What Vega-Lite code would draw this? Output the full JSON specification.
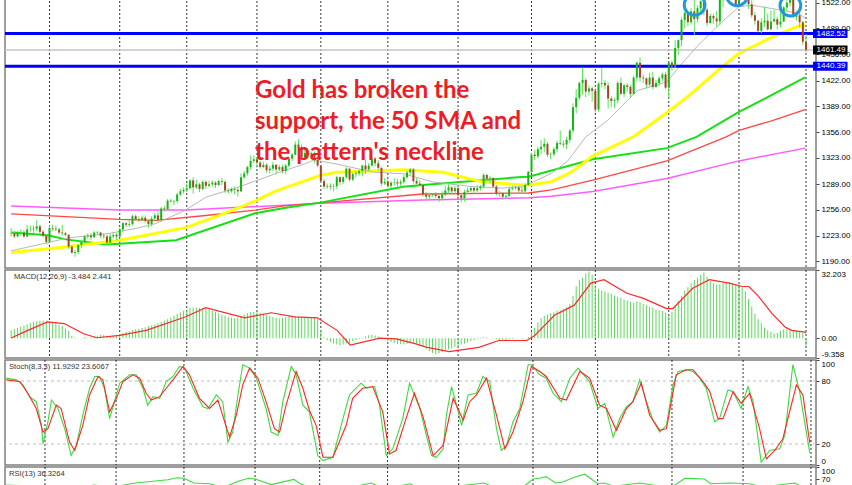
{
"$schema":"https://vega.github.io/schema/vega-lite/v6.json",
"padding":{"left":2,"top":-5,"right":0,"bottom":0},
"background":"white",
"spacing":2,
"bounds":"flush",
"config":{"view":{"stroke":"#7f7f7f","strokeWidth":1.5},"axis":{"labelFont":"Liberation Sans","labelFontSize":8,"labelColor":"#000","tickColor":"#444","tickSize":3,"labelPadding":2,"domain":false,"grid":false}},
"datasets":{
"bars":[
{"i":0,"o":1226,"h":1233,"l":1222,"c":1226.5,"m":3.7},{"i":1,"o":1226,"h":1229,"l":1220,"c":1222,"m":4.2},{"i":2,"o":1222,"h":1229,"l":1221,"c":1227,"m":4.8},{"i":3,"o":1227,"h":1231,"l":1223,"c":1227.5,"m":5.4},{"i":4,"o":1227,"h":1230,"l":1220,"c":1222,"m":6.0},{"i":5,"o":1222,"h":1237,"l":1221,"c":1231,"m":6.6},{"i":6,"o":1231,"h":1236,"l":1228,"c":1231.5,"m":7.2},{"i":7,"o":1231,"h":1236,"l":1226,"c":1232,"m":7.7},{"i":8,"o":1232,"h":1243,"l":1229,"c":1235,"m":8.0},{"i":9,"o":1235,"h":1237,"l":1225,"c":1228,"m":8.2},
{"i":10,"o":1228,"h":1230,"l":1221,"c":1223,"m":8.3},{"i":11,"o":1223,"h":1225,"l":1212,"c":1215,"m":8.2},{"i":12,"o":1215,"h":1236,"l":1214,"c":1233,"m":7.8},{"i":13,"o":1233,"h":1237,"l":1229,"c":1232,"m":7.4},{"i":14,"o":1232,"h":1236,"l":1229,"c":1231,"m":7.0},{"i":15,"o":1231,"h":1233,"l":1225,"c":1227,"m":6.4},{"i":16,"o":1227,"h":1237,"l":1223,"c":1226,"m":5.9},{"i":17,"o":1226,"h":1228,"l":1222,"c":1224,"m":4.6},{"i":18,"o":1224,"h":1225,"l":1206,"c":1209,"m":3.5},{"i":19,"o":1209,"h":1211,"l":1200,"c":1201,"m":1.0},
{"i":20,"o":1201,"h":1205,"l":1196,"c":1202,"m":0.3},{"i":21,"o":1202,"h":1212,"l":1199,"c":1211,"m":-0.2},{"i":22,"o":1211,"h":1218,"l":1207,"c":1215,"m":0.1},{"i":23,"o":1215,"h":1224,"l":1213,"c":1222,"m":0.4},{"i":24,"o":1222,"h":1226,"l":1219,"c":1223,"m":0.2},{"i":25,"o":1223,"h":1226,"l":1217,"c":1221,"m":0.5},{"i":26,"o":1221,"h":1229,"l":1220,"c":1227,"m":1.0},{"i":27,"o":1227,"h":1229,"l":1225,"c":1227.5,"m":1.2},{"i":28,"o":1227,"h":1228,"l":1220,"c":1223,"m":1.5},{"i":29,"o":1223,"h":1226,"l":1219,"c":1222,"m":1.4},
{"i":30,"o":1222,"h":1224,"l":1211,"c":1214,"m":1.2},{"i":31,"o":1214,"h":1225,"l":1210,"c":1222,"m":0.8},{"i":32,"o":1222,"h":1228,"l":1220,"c":1224,"m":0.9},{"i":33,"o":1224,"h":1227,"l":1217,"c":1222,"m":1.3},{"i":34,"o":1222,"h":1233,"l":1221,"c":1231,"m":2.0},{"i":35,"o":1231,"h":1241,"l":1228,"c":1239,"m":2.5},{"i":36,"o":1239,"h":1240,"l":1234,"c":1237,"m":3.0},{"i":37,"o":1237,"h":1243,"l":1234,"c":1238,"m":3.4},{"i":38,"o":1238,"h":1250,"l":1236,"c":1248,"m":3.8},{"i":39,"o":1248,"h":1250,"l":1242,"c":1244,"m":4.2},
{"i":40,"o":1244,"h":1248,"l":1240,"c":1243,"m":4.5},{"i":41,"o":1243,"h":1249,"l":1242,"c":1246,"m":4.8},{"i":42,"o":1246,"h":1249,"l":1239,"c":1242,"m":5.2},{"i":43,"o":1242,"h":1244,"l":1233,"c":1238,"m":5.6},{"i":44,"o":1238,"h":1248,"l":1235,"c":1245,"m":6.0},{"i":45,"o":1245,"h":1252,"l":1244,"c":1249,"m":6.5},{"i":46,"o":1249,"h":1254,"l":1241,"c":1243,"m":7.0},{"i":47,"o":1243,"h":1260,"l":1242,"c":1258,"m":7.6},{"i":48,"o":1258,"h":1261,"l":1254,"c":1257,"m":8.3},{"i":49,"o":1257,"h":1270,"l":1256,"c":1268,"m":9.0},
{"i":50,"o":1268,"h":1270,"l":1266,"c":1267,"m":9.8},{"i":51,"o":1267,"h":1269,"l":1262,"c":1267.5,"m":10.6},{"i":52,"o":1267.5,"h":1278,"l":1265,"c":1276,"m":11.5},{"i":53,"o":1276,"h":1283,"l":1274,"c":1280,"m":12.3},{"i":54,"o":1280,"h":1285,"l":1277,"c":1282,"m":13.0},{"i":55,"o":1282,"h":1290,"l":1279,"c":1284,"m":13.6},{"i":56,"o":1284,"h":1295,"l":1282,"c":1294,"m":14.2},{"i":57,"o":1294,"h":1298,"l":1277,"c":1285,"m":14.5},{"i":58,"o":1285,"h":1295,"l":1283,"c":1289,"m":14.4},{"i":59,"o":1289,"h":1291,"l":1279,"c":1283,"m":14.3},
{"i":60,"o":1283,"h":1294,"l":1281,"c":1292,"m":14.1},{"i":61,"o":1292,"h":1294,"l":1283,"c":1287,"m":13.8},{"i":62,"o":1287,"h":1293,"l":1285,"c":1289,"m":13.5},{"i":63,"o":1289,"h":1294,"l":1286,"c":1291,"m":13.0},{"i":64,"o":1291,"h":1293,"l":1284,"c":1288,"m":12.4},{"i":65,"o":1288,"h":1295,"l":1287,"c":1293,"m":11.8},{"i":66,"o":1293,"h":1297,"l":1288,"c":1292,"m":11.2},{"i":67,"o":1292,"h":1294,"l":1278,"c":1281,"m":10.6},{"i":68,"o":1281,"h":1284,"l":1277,"c":1280,"m":10.0},{"i":69,"o":1280,"h":1285,"l":1278,"c":1283,"m":9.6},
{"i":70,"o":1283,"h":1286,"l":1276,"c":1282,"m":9.4},{"i":71,"o":1282,"h":1284,"l":1273,"c":1280,"m":9.8},{"i":72,"o":1280,"h":1303,"l":1279,"c":1298,"m":10.5},{"i":73,"o":1298,"h":1306,"l":1296,"c":1303,"m":11.2},{"i":74,"o":1303,"h":1313,"l":1300,"c":1311,"m":11.8},{"i":75,"o":1311,"h":1326,"l":1308,"c":1319,"m":12.2},{"i":76,"o":1319,"h":1326,"l":1316,"c":1321,"m":12.4},{"i":77,"o":1321,"h":1324,"l":1310,"c":1317,"m":12.3},{"i":78,"o":1317,"h":1319,"l":1309,"c":1311,"m":12.0},{"i":79,"o":1311,"h":1318,"l":1310,"c":1314,"m":11.6},
{"i":80,"o":1314,"h":1316,"l":1304,"c":1307,"m":11.0},{"i":81,"o":1307,"h":1313,"l":1303,"c":1309,"m":10.5},{"i":82,"o":1309,"h":1318,"l":1306,"c":1314,"m":10.0},{"i":83,"o":1314,"h":1315,"l":1302,"c":1308,"m":9.6},{"i":84,"o":1308,"h":1314,"l":1306,"c":1311,"m":9.3},{"i":85,"o":1311,"h":1314,"l":1303,"c":1306,"m":9.5},{"i":86,"o":1306,"h":1315,"l":1302,"c":1313,"m":10.0},{"i":87,"o":1313,"h":1324,"l":1311,"c":1322,"m":10.4},{"i":88,"o":1322,"h":1329,"l":1319,"c":1327,"m":10.6},{"i":89,"o":1327,"h":1344,"l":1326,"c":1340,"m":10.5},
{"i":90,"o":1340,"h":1347,"l":1336,"c":1337,"m":10.2},{"i":91,"o":1337,"h":1340,"l":1320,"c":1324,"m":9.8},{"i":92,"o":1324,"h":1333,"l":1322,"c":1329,"m":9.6},{"i":93,"o":1329,"h":1332,"l":1322,"c":1327,"m":9.7},{"i":94,"o":1327,"h":1331,"l":1322,"c":1329,"m":9.7},{"i":95,"o":1329,"h":1331,"l":1316,"c":1320,"m":9.5},{"i":96,"o":1320,"h":1322,"l":1311,"c":1313,"m":9.0},{"i":97,"o":1313,"h":1314,"l":1291,"c":1293,"m":4.0},{"i":98,"o":1293,"h":1296,"l":1283,"c":1286,"m":0.5},{"i":99,"o":1286,"h":1290,"l":1283,"c":1287,"m":-1.0},
{"i":100,"o":1287,"h":1290,"l":1282,"c":1286,"m":-1.8},{"i":101,"o":1286,"h":1290,"l":1280,"c":1286.5,"m":-2.5},{"i":102,"o":1286.5,"h":1300,"l":1283,"c":1298,"m":-3.0},{"i":103,"o":1298,"h":1299,"l":1288,"c":1292,"m":-3.4},{"i":104,"o":1292,"h":1299,"l":1289,"c":1298,"m":-3.0},{"i":105,"o":1298,"h":1311,"l":1296,"c":1309,"m":-2.5},{"i":106,"o":1309,"h":1310,"l":1293,"c":1295,"m":-2.2},{"i":107,"o":1295,"h":1304,"l":1293,"c":1302,"m":-1.5},{"i":108,"o":1302,"h":1306,"l":1298,"c":1303,"m":-1.0},{"i":109,"o":1303,"h":1308,"l":1300,"c":1306,"m":-0.5},
{"i":110,"o":1306,"h":1314,"l":1299,"c":1313,"m":0.2},{"i":111,"o":1313,"h":1320,"l":1302,"c":1308,"m":0.8},{"i":112,"o":1308,"h":1316,"l":1306,"c":1313,"m":1.4},{"i":113,"o":1313,"h":1325,"l":1312,"c":1322,"m":1.6},{"i":114,"o":1322,"h":1324,"l":1312,"c":1316,"m":1.3},{"i":115,"o":1316,"h":1320,"l":1307,"c":1310,"m":0.8},{"i":116,"o":1310,"h":1311,"l":1287,"c":1290,"m":0.2},{"i":117,"o":1290,"h":1297,"l":1288,"c":1292,"m":-0.5},{"i":118,"o":1292,"h":1295,"l":1285,"c":1287,"m":-1.2},{"i":119,"o":1287,"h":1293,"l":1284,"c":1291,"m":-1.8},
{"i":120,"o":1291,"h":1297,"l":1287,"c":1291.5,"m":-2.3},{"i":121,"o":1291.5,"h":1296,"l":1286,"c":1290,"m":-2.6},{"i":122,"o":1290,"h":1295,"l":1286,"c":1292,"m":-2.8},{"i":123,"o":1292,"h":1301,"l":1290,"c":1298,"m":-3.0},{"i":124,"o":1298,"h":1306,"l":1296,"c":1304,"m":-2.6},{"i":125,"o":1304,"h":1310,"l":1300,"c":1308,"m":-2.2},{"i":126,"o":1308,"h":1310,"l":1290,"c":1293,"m":-2.0},{"i":127,"o":1293,"h":1297,"l":1289,"c":1290,"m":-2.5},{"i":128,"o":1290,"h":1294,"l":1286,"c":1288,"m":-3.2},{"i":129,"o":1288,"h":1290,"l":1273,"c":1276,"m":-4.2},
{"i":130,"o":1276,"h":1279,"l":1270,"c":1273,"m":-5.2},{"i":131,"o":1273,"h":1277,"l":1269,"c":1275,"m":-6.0},{"i":132,"o":1275,"h":1277,"l":1273,"c":1276,"m":-7.0},{"i":133,"o":1276,"h":1279,"l":1271,"c":1274,"m":-7.6},{"i":134,"o":1274,"h":1277,"l":1266,"c":1271,"m":-7.2},{"i":135,"o":1271,"h":1280,"l":1268,"c":1276,"m":-6.5},{"i":136,"o":1276,"h":1287,"l":1274,"c":1281,"m":-5.8},{"i":137,"o":1281,"h":1289,"l":1276,"c":1285,"m":-5.2},{"i":138,"o":1285,"h":1286,"l":1276,"c":1280,"m":-4.8},{"i":139,"o":1280,"h":1287,"l":1277,"c":1284,"m":-4.2},
{"i":140,"o":1284,"h":1287,"l":1272,"c":1275,"m":-3.6},{"i":141,"o":1275,"h":1278,"l":1266,"c":1271,"m":-3.0},{"i":142,"o":1271,"h":1282,"l":1267,"c":1279,"m":-2.5},{"i":143,"o":1279,"h":1285,"l":1276,"c":1281,"m":-2.0},{"i":144,"o":1281,"h":1286,"l":1279,"c":1284,"m":-1.4},{"i":145,"o":1284,"h":1286,"l":1277,"c":1281,"m":-0.8},{"i":146,"o":1281,"h":1288,"l":1279,"c":1284,"m":-0.4},{"i":147,"o":1284,"h":1288,"l":1281,"c":1286,"m":0.2},{"i":148,"o":1286,"h":1303,"l":1284,"c":1301,"m":0.5},{"i":149,"o":1301,"h":1302,"l":1293,"c":1296,"m":0.3},
{"i":150,"o":1296,"h":1300,"l":1290,"c":1297,"m":0.1},{"i":151,"o":1297,"h":1298,"l":1285,"c":1286,"m":-0.3},{"i":152,"o":1286,"h":1288,"l":1275,"c":1277,"m":-0.5},{"i":153,"o":1277,"h":1280,"l":1273,"c":1277.5,"m":-0.8},{"i":154,"o":1277.5,"h":1279,"l":1269,"c":1273,"m":-1.0},{"i":155,"o":1273,"h":1276,"l":1270,"c":1274,"m":-0.9},{"i":156,"o":1274,"h":1286,"l":1273,"c":1283,"m":-0.6},{"i":157,"o":1283,"h":1287,"l":1281,"c":1284,"m":-0.4},{"i":158,"o":1284,"h":1287,"l":1282,"c":1285,"m":-0.2},{"i":159,"o":1285,"h":1287,"l":1277,"c":1281,"m":0.0},
{"i":160,"o":1281,"h":1286,"l":1278,"c":1280,"m":-0.3},{"i":161,"o":1280,"h":1290,"l":1278,"c":1288,"m":-0.1},{"i":162,"o":1288,"h":1306,"l":1287,"c":1305,"m":0.6},{"i":163,"o":1305,"h":1329,"l":1304,"c":1327,"m":3.0},{"i":164,"o":1327,"h":1333,"l":1320,"c":1325,"m":4.8},{"i":165,"o":1325,"h":1337,"l":1322,"c":1334,"m":7.5},{"i":166,"o":1334,"h":1346,"l":1328,"c":1337,"m":9.5},{"i":167,"o":1337,"h":1348,"l":1330,"c":1341,"m":10.6},{"i":168,"o":1341,"h":1343,"l":1324,"c":1327,"m":11.2},{"i":169,"o":1327,"h":1330,"l":1321,"c":1327.5,"m":11.8},
{"i":170,"o":1327.5,"h":1337,"l":1325,"c":1334,"m":12.3},{"i":171,"o":1334,"h":1345,"l":1330,"c":1342,"m":13.0},{"i":172,"o":1342,"h":1358,"l":1339,"c":1341,"m":13.2},{"i":173,"o":1341,"h":1345,"l":1336,"c":1340,"m":13.8},{"i":174,"o":1340,"h":1350,"l":1334,"c":1346,"m":14.5},{"i":175,"o":1346,"h":1360,"l":1342,"c":1358,"m":16.0},{"i":176,"o":1358,"h":1393,"l":1355,"c":1388,"m":20.0},{"i":177,"o":1388,"h":1411,"l":1380,"c":1400,"m":24.5},{"i":178,"o":1400,"h":1421,"l":1397,"c":1419,"m":27.5},{"i":179,"o":1419,"h":1439,"l":1404,"c":1423,"m":28.5},
{"i":180,"o":1423,"h":1425,"l":1401,"c":1408,"m":30.5},{"i":181,"o":1408,"h":1416,"l":1403,"c":1412,"m":31.5},{"i":182,"o":1412,"h":1414,"l":1395,"c":1409,"m":30.0},{"i":183,"o":1409,"h":1410,"l":1381,"c":1385,"m":25.0},{"i":184,"o":1385,"h":1420,"l":1382,"c":1418,"m":23.2},{"i":185,"o":1418,"h":1438,"l":1413,"c":1419,"m":22.5},{"i":186,"o":1419,"h":1423,"l":1411,"c":1416,"m":22.0},{"i":187,"o":1416,"h":1420,"l":1386,"c":1399,"m":21.5},{"i":188,"o":1399,"h":1402,"l":1388,"c":1396,"m":21.0},{"i":189,"o":1396,"h":1400,"l":1387,"c":1397,"m":20.2},
{"i":190,"o":1397,"h":1421,"l":1393,"c":1419,"m":19.6},{"i":191,"o":1419,"h":1426,"l":1404,"c":1405,"m":19.0},{"i":192,"o":1405,"h":1418,"l":1401,"c":1416,"m":18.2},{"i":193,"o":1416,"h":1419,"l":1408,"c":1414,"m":17.8},{"i":194,"o":1414,"h":1417,"l":1401,"c":1405,"m":17.2},{"i":195,"o":1405,"h":1428,"l":1404,"c":1426,"m":16.8},{"i":196,"o":1426,"h":1447,"l":1421,"c":1445,"m":17.5},{"i":197,"o":1445,"h":1452,"l":1421,"c":1426,"m":17.0},{"i":198,"o":1426,"h":1430,"l":1419,"c":1425,"m":16.2},{"i":199,"o":1425,"h":1426,"l":1412,"c":1417,"m":15.5},
{"i":200,"o":1417,"h":1432,"l":1414,"c":1426,"m":14.8},{"i":201,"o":1426,"h":1433,"l":1411,"c":1414,"m":14.2},{"i":202,"o":1414,"h":1423,"l":1413,"c":1419,"m":13.6},{"i":203,"o":1419,"h":1428,"l":1415,"c":1425,"m":13.2},{"i":204,"o":1425,"h":1432,"l":1421,"c":1430,"m":12.8},{"i":205,"o":1430,"h":1433,"l":1411,"c":1413,"m":12.0},{"i":206,"o":1413,"h":1446,"l":1400,"c":1445,"m":10.8},{"i":207,"o":1445,"h":1448,"l":1435,"c":1441,"m":12.5},{"i":208,"o":1441,"h":1474,"l":1438,"c":1464,"m":15.0},{"i":209,"o":1464,"h":1475,"l":1455,"c":1474,"m":17.5},
{"i":210,"o":1474,"h":1503,"l":1466,"c":1500,"m":20.0},{"i":211,"o":1500,"h":1510,"l":1489,"c":1509,"m":22.5},{"i":212,"o":1509,"h":1510,"l":1492,"c":1497,"m":24.0},{"i":213,"o":1497,"h":1515,"l":1494,"c":1511,"m":26.0},{"i":214,"o":1511,"h":1535,"l":1480,"c":1501,"m":27.5},{"i":215,"o":1501,"h":1519,"l":1497,"c":1515,"m":28.5},{"i":216,"o":1515,"h":1525,"l":1506,"c":1524,"m":30.0},{"i":217,"o":1524,"h":1526,"l":1506,"c":1513,"m":31.0},{"i":218,"o":1513,"h":1515,"l":1492,"c":1496,"m":29.0},{"i":219,"o":1496,"h":1508,"l":1495,"c":1505,"m":27.0},
{"i":220,"o":1505,"h":1508,"l":1495,"c":1502,"m":26.0},{"i":221,"o":1502,"h":1511,"l":1491,"c":1498,"m":25.2},{"i":222,"o":1498,"h":1528,"l":1493,"c":1527,"m":25.5},{"i":223,"o":1527,"h":1555,"l":1516,"c":1527.5,"m":26.0},{"i":224,"o":1527.5,"h":1543,"l":1525,"c":1542,"m":26.2},{"i":225,"o":1542,"h":1551,"l":1535,"c":1540,"m":26.5},{"i":226,"o":1540,"h":1544,"l":1526,"c":1528,"m":26.0},{"i":227,"o":1528,"h":1530,"l":1516,"c":1520,"m":25.5},{"i":228,"o":1520,"h":1532,"l":1518,"c":1529,"m":25.0},{"i":229,"o":1529,"h":1550,"l":1526,"c":1547,"m":24.0},
{"i":230,"o":1547,"h":1557,"l":1538,"c":1552,"m":22.0},{"i":231,"o":1552,"h":1553,"l":1514,"c":1520,"m":18.5},{"i":232,"o":1520,"h":1527,"l":1503,"c":1506,"m":15.0},{"i":233,"o":1506,"h":1510,"l":1494,"c":1499,"m":11.5},{"i":234,"o":1499,"h":1500,"l":1484,"c":1486,"m":9.0},{"i":235,"o":1486,"h":1502,"l":1483,"c":1497,"m":7.0},{"i":236,"o":1497,"h":1517,"l":1491,"c":1499,"m":5.0},{"i":237,"o":1499,"h":1508,"l":1486,"c":1488,"m":3.8},{"i":238,"o":1488,"h":1512,"l":1487,"c":1498,"m":3.0},{"i":239,"o":1498,"h":1513,"l":1497,"c":1501,"m":2.2},
{"i":240,"o":1501,"h":1504,"l":1488,"c":1494,"m":2.5},{"i":241,"o":1494,"h":1510,"l":1490,"c":1498,"m":3.5},{"i":242,"o":1498,"h":1518,"l":1497,"c":1516,"m":4.2},{"i":243,"o":1516,"h":1527,"l":1511,"c":1522,"m":4.8},{"i":244,"o":1522,"h":1535,"l":1517,"c":1531,"m":4.5},{"i":245,"o":1531,"h":1533,"l":1502,"c":1504,"m":4.0},{"i":246,"o":1504,"h":1512,"l":1499,"c":1506,"m":3.6},{"i":247,"o":1506,"h":1509,"l":1490,"c":1497,"m":3.2},{"i":248,"o":1497,"h":1499,"l":1468,"c":1472,"m":2.6},{"i":249,"o":1472,"h":1482,"l":1459,"c":1461.49,"m":-3.484}
],
"months":[{"i":12},{"i":34},{"i":55},{"i":77},{"i":97},{"i":118},{"i":140},{"i":163},{"i":183},{"i":206},{"i":228},{"i":249}],
"ma":[
{"s":"a","i":0,"v":1203.6},{"s":"a","i":11.4,"v":1213.9},{"s":"a","i":17.6,"v":1220},{"s":"a","i":30,"v":1225.4},{"s":"a","i":39.2,"v":1232.4},{"s":"a","i":45.4,"v":1238.6},{"s":"a","i":54.7,"v":1255.9},{"s":"a","i":60.9,"v":1272.3},{"s":"a","i":70.2,"v":1284},{"s":"a","i":76.4,"v":1293},{"s":"a","i":84.1,"v":1304.5},{"s":"a","i":91.8,"v":1314.9},{"s":"a","i":94.9,"v":1320.2},{"s":"a","i":102,"v":1314.9},{"s":"a","i":113.5,"v":1304.5},{"s":"a","i":122.8,"v":1302.5},{"s":"a","i":132,"v":1292.1},{"s":"a","i":144.4,"v":1285.9},{"s":"a","i":153.7,"v":1284},{"s":"a","i":159.9,"v":1285.9},{"s":"a","i":162.1,"v":1289.3},{"s":"a","i":169.2,"v":1302.9},{"s":"a","i":174.4,"v":1319},{"s":"a","i":180,"v":1349.9},{"s":"a","i":186.8,"v":1370.9},{"s":"a","i":196.1,"v":1409.2},{"s":"a","i":205.4,"v":1420.3},{"s":"a","i":209.4,"v":1440.5},{"s":"a","i":214.7,"v":1465.2},{"s":"a","i":221.8,"v":1494.2},{"s":"a","i":228,"v":1516.8},{"s":"a","i":232,"v":1518.9},{"s":"a","i":238.2,"v":1514.7},{"s":"a","i":246.5,"v":1508.5},{"s":"a","i":248.7,"v":1502.3},
{"s":"y","i":0,"v":1201.5},{"s":"y","i":17.6,"v":1208.9},{"s":"y","i":30,"v":1215.1},{"s":"y","i":34,"v":1217.2},{"s":"y","i":45.4,"v":1226.2},{"s":"y","i":54.7,"v":1233.3},{"s":"y","i":65.8,"v":1250.1},{"s":"y","i":76.4,"v":1267.4},{"s":"y","i":82.6,"v":1279.8},{"s":"y","i":96.8,"v":1300.4},{"s":"y","i":102,"v":1304.5},{"s":"y","i":122.8,"v":1307.5},{"s":"y","i":135.2,"v":1304.5},{"s":"y","i":147.5,"v":1292.1},{"s":"y","i":159.9,"v":1288},{"s":"y","i":162.1,"v":1288},{"s":"y","i":169.2,"v":1292.1},{"s":"y","i":175.4,"v":1304.5},{"s":"y","i":182.2,"v":1325.1},{"s":"y","i":194.9,"v":1349.9},{"s":"y","i":205.4,"v":1380.8},{"s":"y","i":212.5,"v":1403.4},{"s":"y","i":221.8,"v":1436.4},{"s":"y","i":228,"v":1457.1},{"s":"y","i":238.2,"v":1477.6},{"s":"y","i":246.5,"v":1492},{"s":"y","i":248.7,"v":1493.3},
{"s":"g","i":0,"v":1227.1},{"s":"g","i":11.4,"v":1223.4},{"s":"g","i":17.6,"v":1217.9},{"s":"g","i":30,"v":1211.8},{"s":"g","i":51.6,"v":1217.2},{"s":"g","i":76.4,"v":1251.8},{"s":"g","i":85.6,"v":1258.4},{"s":"g","i":96.8,"v":1265.4},{"s":"g","i":122.8,"v":1285.9},{"s":"g","i":129,"v":1288},{"s":"g","i":159.9,"v":1298.3},{"s":"g","i":162.1,"v":1298.6},{"s":"g","i":182.2,"v":1321.1},{"s":"g","i":205.4,"v":1335.4},{"s":"g","i":214.7,"v":1349.9},{"s":"g","i":228,"v":1382},{"s":"g","i":238.2,"v":1403.4},{"s":"g","i":248.7,"v":1426.2},
{"s":"r","i":0,"v":1250.9},{"s":"r","i":34,"v":1243.9},{"s":"r","i":45.4,"v":1242.7},{"s":"r","i":60.9,"v":1248.9},{"s":"r","i":76.4,"v":1255.9},{"s":"r","i":85.6,"v":1261.2},{"s":"r","i":96.8,"v":1265.2},{"s":"r","i":129,"v":1276.5},{"s":"r","i":162.1,"v":1277.8},{"s":"r","i":169.2,"v":1281.9},{"s":"r","i":182.2,"v":1294.2},{"s":"r","i":205.4,"v":1319},{"s":"r","i":224,"v":1349.9},{"s":"r","i":228,"v":1358.1},{"s":"r","i":238.2,"v":1370.5},{"s":"r","i":248.7,"v":1384.9},
{"s":"m","i":0,"v":1261.2},{"s":"m","i":34,"v":1255.9},{"s":"m","i":54.7,"v":1255.9},{"s":"m","i":85.6,"v":1262.1},{"s":"m","i":96.8,"v":1264.6},{"s":"m","i":129,"v":1268.9},{"s":"m","i":162.1,"v":1271.6},{"s":"m","i":169.2,"v":1273.6},{"s":"m","i":182.2,"v":1279.8},{"s":"m","i":205.4,"v":1296.3},{"s":"m","i":228,"v":1319},{"s":"m","i":248.7,"v":1335.4}
],
"levels":[{"v":1482.52,"t":"s"},{"v":1440.39,"t":"s"},{"v":1461.49,"t":"p"}],
"circles":[{"i":214.1,"v":1519.3},{"i":227.4,"v":1531.6},{"i":244.1,"v":1518.4}],
"note":[{"i":76.4,"v":1399.3,"t":"Gold has broken the\nsupport, the 50 SMA and\nthe pattern's neckline"}],
"sig":[{"i":0,"v":0.05},{"i":5.2,"v":3.7},{"i":11.4,"v":7.7},{"i":16.6,"v":6.9},{"i":22.7,"v":2.1},{"i":26.8,"v":0.2},{"i":34,"v":1.3},{"i":42.3,"v":3.7},{"i":54.7,"v":10.1},{"i":60.9,"v":14.4},{"i":73.2,"v":9.6},{"i":81.5,"v":12.0},{"i":88.7,"v":10.1},{"i":95.9,"v":9.6},{"i":102.1,"v":3.7},{"i":106.2,"v":-3.2},{"i":115.5,"v":0.05},{"i":120.6,"v":-0.3},{"i":126.5,"v":-2.6},{"i":130,"v":-4.2},{"i":137.2,"v":-6.3},{"i":146.5,"v":-4.3},{"i":152.7,"v":-1.1},{"i":161.5,"v":-1.1},{"i":164,"v":1.3},{"i":170.2,"v":10.8},{"i":176.4,"v":15.6},{"i":181.6,"v":26.0},{"i":185.7,"v":27.6},{"i":192.9,"v":21.2},{"i":198.1,"v":18.8},{"i":205.3,"v":14.0},{"i":207.3,"v":14.0},{"i":213.5,"v":23.6},{"i":218.7,"v":27.6},{"i":224.9,"v":26.0},{"i":229,"v":24.4},{"i":231.1,"v":24.4},{"i":234.2,"v":19.6},{"i":238.3,"v":11.7},{"i":242.4,"v":5.3},{"i":244.5,"v":3.7},{"i":248.6,"v":2.9},{"i":249,"v":2.441}],
"st":[
{"s":"k","i":0,"v":82.7},{"s":"k","i":3.1,"v":81.1},{"s":"k","i":5.2,"v":76.3},{"s":"k","i":7.2,"v":65.1},{"s":"k","i":9.3,"v":60.3},{"s":"k","i":10.9,"v":37.8},{"s":"k","i":11.4,"v":20.2},{"s":"k","i":12.9,"v":41.0},{"s":"k","i":14,"v":61.9},{"s":"k","i":16,"v":53.8},{"s":"k","i":18.1,"v":34.6},{"s":"k","i":20.1,"v":9.0},{"s":"k","i":21.7,"v":18.6},{"s":"k","i":23.7,"v":47.4},{"s":"k","i":25.8,"v":73.1},{"s":"k","i":27.4,"v":84.3},{"s":"k","i":28.9,"v":84.3},{"s":"k","i":30.4,"v":73.1},{"s":"k","i":32,"v":44.2},{"s":"k","i":33.5,"v":60.3},{"s":"k","i":35.1,"v":77.9},{"s":"k","i":38.2,"v":85.9},{"s":"k","i":40.2,"v":85.9},{"s":"k","i":42.3,"v":73.1},{"s":"k","i":43.8,"v":57.0},{"s":"k","i":45.4,"v":65.1},{"s":"k","i":47.5,"v":63.5},{"s":"k","i":49.5,"v":79.5},{"s":"k","i":51.6,"v":84.3},{"s":"k","i":53.6,"v":93.9},{"s":"k","i":55.2,"v":92.3},{"s":"k","i":57.8,"v":73.1},{"s":"k","i":60.9,"v":55.4},{"s":"k","i":62.4,"v":53.8},{"s":"k","i":65,"v":66.7},{"s":"k","i":67,"v":60.3},{"s":"k","i":68.6,"v":21.8},{"s":"k","i":70.1,"v":31.4},{"s":"k","i":71.7,"v":66.7},{"s":"k","i":73.2,"v":95.5},{"s":"k","i":75.3,"v":92.3},{"s":"k","i":77.4,"v":82.7},{"s":"k","i":80.4,"v":53.8},{"s":"k","i":82,"v":31.4},{"s":"k","i":84.1,"v":28.2},{"s":"k","i":85.6,"v":60.3},{"s":"k","i":88.2,"v":93.9},{"s":"k","i":89.7,"v":85.9},{"s":"k","i":91.8,"v":57.0},{"s":"k","i":93.8,"v":50.6},{"s":"k","i":96.4,"v":9.0},{"s":"k","i":98,"v":4.2},{"s":"k","i":101.1,"v":7.4},{"s":"k","i":104.2,"v":44.2},{"s":"k","i":106.2,"v":66.7},{"s":"k","i":109.8,"v":77.9},{"s":"k","i":111.4,"v":73.1},{"s":"k","i":114,"v":74.7},{"s":"k","i":115.5,"v":57.0},{"s":"k","i":117.6,"v":9.0},{"s":"k","i":119.6,"v":15.4},{"s":"k","i":122.7,"v":44.2},{"s":"k","i":124.8,"v":77.9},{"s":"k","i":125.9,"v":69.9},{"s":"k","i":128,"v":53.8},{"s":"k","i":130,"v":28.2},{"s":"k","i":131.6,"v":9.0},{"s":"k","i":133.1,"v":7.4},{"s":"k","i":135.2,"v":15.4},{"s":"k","i":136.2,"v":47.4},{"s":"k","i":137.8,"v":74.7},{"s":"k","i":138.8,"v":63.5},{"s":"k","i":140.9,"v":37.8},{"s":"k","i":142.9,"v":66.7},{"s":"k","i":145.5,"v":68.3},{"s":"k","i":147.5,"v":84.3},{"s":"k","i":149.6,"v":79.5},{"s":"k","i":151.7,"v":34.6},{"s":"k","i":153.2,"v":13.8},{"s":"k","i":154.8,"v":18.6},{"s":"k","i":156.8,"v":41.0},{"s":"k","i":158.9,"v":53.8},{"s":"k","i":161.5,"v":95.5},{"s":"k","i":162.5,"v":95.5},{"s":"k","i":165.1,"v":85.9},{"s":"k","i":167.1,"v":82.7},{"s":"k","i":169.2,"v":68.3},{"s":"k","i":171.8,"v":60.3},{"s":"k","i":174.4,"v":82.7},{"s":"k","i":176.9,"v":92.3},{"s":"k","i":180.5,"v":79.5},{"s":"k","i":183.1,"v":53.8},{"s":"k","i":185.2,"v":58.7},{"s":"k","i":187.8,"v":26.6},{"s":"k","i":189.8,"v":44.2},{"s":"k","i":191.9,"v":55.4},{"s":"k","i":193.9,"v":60.3},{"s":"k","i":196,"v":81.1},{"s":"k","i":198.1,"v":60.3},{"s":"k","i":200.1,"v":42.6},{"s":"k","i":202.2,"v":31.4},{"s":"k","i":204.3,"v":37.8},{"s":"k","i":206.3,"v":76.3},{"s":"k","i":207.9,"v":89.1},{"s":"k","i":210.4,"v":90.7},{"s":"k","i":212.5,"v":89.1},{"s":"k","i":214.6,"v":82.7},{"s":"k","i":216.6,"v":73.1},{"s":"k","i":219.2,"v":41.0},{"s":"k","i":220.7,"v":44.2},{"s":"k","i":223.3,"v":71.5},{"s":"k","i":224.9,"v":69.9},{"s":"k","i":227.4,"v":53.8},{"s":"k","i":229.5,"v":74.7},{"s":"k","i":231.1,"v":60.3},{"s":"k","i":233.6,"v":2.6},{"s":"k","i":236.2,"v":13.8},{"s":"k","i":239.3,"v":15.4},{"s":"k","i":240.9,"v":28.2},{"s":"k","i":243.4,"v":95.5},{"s":"k","i":245.5,"v":69.9},{"s":"k","i":248.6,"v":12.2},{"s":"k","i":249,"v":11.93},
{"s":"d","i":0,"v":81.1},{"s":"d","i":4.2,"v":79.5},{"s":"d","i":6.7,"v":68.3},{"s":"d","i":9.3,"v":53.8},{"s":"d","i":11.4,"v":31.4},{"s":"d","i":12.9,"v":34.6},{"s":"d","i":15.5,"v":57.0},{"s":"d","i":17,"v":53.8},{"s":"d","i":19.6,"v":21.8},{"s":"d","i":21.2,"v":13.8},{"s":"d","i":23.7,"v":37.8},{"s":"d","i":25.8,"v":66.7},{"s":"d","i":28.4,"v":84.3},{"s":"d","i":29.9,"v":81.1},{"s":"d","i":32,"v":50.6},{"s":"d","i":34.1,"v":63.5},{"s":"d","i":36.1,"v":79.5},{"s":"d","i":39.2,"v":85.9},{"s":"d","i":41.3,"v":82.7},{"s":"d","i":43.3,"v":68.3},{"s":"d","i":44.9,"v":61.9},{"s":"d","i":47.5,"v":65.1},{"s":"d","i":49.5,"v":73.1},{"s":"d","i":51.6,"v":81.1},{"s":"d","i":54.7,"v":93.9},{"s":"d","i":56.7,"v":85.9},{"s":"d","i":59.8,"v":63.5},{"s":"d","i":62.9,"v":53.8},{"s":"d","i":65.5,"v":61.9},{"s":"d","i":67.6,"v":41.0},{"s":"d","i":69.1,"v":26.6},{"s":"d","i":71.2,"v":47.4},{"s":"d","i":73.2,"v":76.3},{"s":"d","i":75.3,"v":92.3},{"s":"d","i":77.9,"v":82.7},{"s":"d","i":80.4,"v":60.3},{"s":"d","i":83,"v":34.6},{"s":"d","i":84.6,"v":31.4},{"s":"d","i":86.6,"v":57.0},{"s":"d","i":89.7,"v":89.1},{"s":"d","i":91.8,"v":73.1},{"s":"d","i":93.8,"v":52.2},{"s":"d","i":95.9,"v":37.8},{"s":"d","i":98,"v":7.4},{"s":"d","i":101.1,"v":7.4},{"s":"d","i":105.2,"v":37.8},{"s":"d","i":107.2,"v":63.5},{"s":"d","i":110.3,"v":73.1},{"s":"d","i":113.4,"v":74.7},{"s":"d","i":116.5,"v":50.6},{"s":"d","i":118.6,"v":10.6},{"s":"d","i":120.6,"v":13.8},{"s":"d","i":123.7,"v":44.2},{"s":"d","i":126.3,"v":68.3},{"s":"d","i":129,"v":45.8},{"s":"d","i":132.1,"v":9.0},{"s":"d","i":135.2,"v":18.6},{"s":"d","i":138.3,"v":63.5},{"s":"d","i":141.4,"v":42.6},{"s":"d","i":143.4,"v":60.3},{"s":"d","i":145.5,"v":66.7},{"s":"d","i":148.6,"v":82.7},{"s":"d","i":151.7,"v":47.4},{"s":"d","i":154.3,"v":15.4},{"s":"d","i":156.8,"v":31.4},{"s":"d","i":159.9,"v":60.3},{"s":"d","i":162.5,"v":93.9},{"s":"d","i":165.1,"v":89.1},{"s":"d","i":167.1,"v":84.3},{"s":"d","i":171.3,"v":63.5},{"s":"d","i":173.3,"v":61.9},{"s":"d","i":177.5,"v":89.1},{"s":"d","i":180.5,"v":82.7},{"s":"d","i":183.6,"v":57.0},{"s":"d","i":185.7,"v":53.8},{"s":"d","i":188.8,"v":33.0},{"s":"d","i":191.9,"v":53.8},{"s":"d","i":193.9,"v":60.3},{"s":"d","i":196.5,"v":77.9},{"s":"d","i":199.1,"v":47.4},{"s":"d","i":202.2,"v":33.0},{"s":"d","i":204.3,"v":34.6},{"s":"d","i":207.3,"v":85.9},{"s":"d","i":210.4,"v":90.7},{"s":"d","i":212.5,"v":90.7},{"s":"d","i":215.6,"v":79.5},{"s":"d","i":217.7,"v":69.9},{"s":"d","i":220.2,"v":44.2},{"s":"d","i":221.8,"v":44.2},{"s":"d","i":224.9,"v":69.9},{"s":"d","i":227.4,"v":58.7},{"s":"d","i":230,"v":68.3},{"s":"d","i":233.1,"v":34.6},{"s":"d","i":235.2,"v":5.8},{"s":"d","i":237.8,"v":13.8},{"s":"d","i":240.3,"v":25.0},{"s":"d","i":244.5,"v":76.3},{"s":"d","i":246.5,"v":66.7},{"s":"d","i":248.6,"v":21.8},{"s":"d","i":249,"v":23.61}
],
"rsi":[{"i":0,"v":55},{"i":10,"v":52},{"i":12,"v":40},{"i":20,"v":35},{"i":27,"v":55},{"i":33,"v":50},{"i":40,"v":60},{"i":50,"v":68},{"i":53,"v":73},{"i":55,"v":72},{"i":58,"v":60},{"i":63,"v":58},{"i":67,"v":48},{"i":72,"v":65},{"i":75,"v":72},{"i":77,"v":70},{"i":82,"v":56},{"i":89,"v":69},{"i":91,"v":58},{"i":97,"v":40},{"i":101,"v":40},{"i":110,"v":55},{"i":113,"v":60},{"i":117,"v":45},{"i":125,"v":58},{"i":130,"v":35},{"i":137,"v":50},{"i":148,"v":60},{"i":153,"v":40},{"i":160,"v":50},{"i":163,"v":70},{"i":165,"v":72},{"i":167,"v":76},{"i":170,"v":60},{"i":172,"v":62},{"i":176,"v":75},{"i":179,"v":82},{"i":181,"v":70},{"i":183,"v":58},{"i":185,"v":60},{"i":188,"v":52},{"i":196,"v":60},{"i":200,"v":55},{"i":206,"v":50},{"i":210,"v":72},{"i":213,"v":71},{"i":216,"v":70},{"i":218,"v":58},{"i":224,"v":60},{"i":230,"v":58},{"i":234,"v":50},{"i":244,"v":60},{"i":249,"v":36.33}]
},
"vconcat":[
{"width":811,"height":271,
"layer":[
{"data":{"name":"months"},"mark":{"type":"rule","stroke":"#000","strokeDash":[2,2],"strokeWidth":1,"opacity":0.8},"encoding":{"x":{"field":"i","type":"quantitative","scale":{"domain":[-0.37,250.56],"nice":false,"zero":false},"axis":null}}},
{"data":{"name":"ma"},"transform":[{"filter":"datum.s=='m'"}],"mark":{"type":"line","stroke":"#ff5cff","strokeWidth":1.5,"clip":true},"encoding":{"x":{"field":"i","type":"quantitative","scale":{"domain":[-0.37,250.56],"nice":false,"zero":false},"axis":null},"y":{"field":"v","type":"quantitative","title":null,"scale":{"domain":[1187.9,1523.0],"nice":false,"zero":false},"axis":{"orient":"right","values":[1190,1223,1256,1289,1323,1356,1389,1422,1456,1489,1522],"format":".2f","labelFlush":4}}}},
{"data":{"name":"ma"},"transform":[{"filter":"datum.s=='r'"}],"mark":{"type":"line","stroke":"#ff4848","strokeWidth":1.3,"clip":true},"encoding":{"x":{"field":"i","type":"quantitative","scale":{"domain":[-0.37,250.56],"nice":false,"zero":false},"axis":null},"y":{"field":"v","type":"quantitative","title":null,"scale":{"domain":[1187.9,1523.0],"nice":false,"zero":false},"axis":{"orient":"right","values":[1190,1223,1256,1289,1323,1356,1389,1422,1456,1489,1522],"format":".2f","labelFlush":4}}}},
{"data":{"name":"ma"},"transform":[{"filter":"datum.s=='g'"}],"mark":{"type":"line","stroke":"#14e014","strokeWidth":2,"clip":true},"encoding":{"x":{"field":"i","type":"quantitative","scale":{"domain":[-0.37,250.56],"nice":false,"zero":false},"axis":null},"y":{"field":"v","type":"quantitative","title":null,"scale":{"domain":[1187.9,1523.0],"nice":false,"zero":false},"axis":{"orient":"right","values":[1190,1223,1256,1289,1323,1356,1389,1422,1456,1489,1522],"format":".2f","labelFlush":4}}}},
{"data":{"name":"ma"},"transform":[{"filter":"datum.s=='y'"}],"mark":{"type":"line","stroke":"#ffff00","strokeWidth":3,"clip":true},"encoding":{"x":{"field":"i","type":"quantitative","scale":{"domain":[-0.37,250.56],"nice":false,"zero":false},"axis":null},"y":{"field":"v","type":"quantitative","title":null,"scale":{"domain":[1187.9,1523.0],"nice":false,"zero":false},"axis":{"orient":"right","values":[1190,1223,1256,1289,1323,1356,1389,1422,1456,1489,1522],"format":".2f","labelFlush":4}}}},
{"data":{"name":"ma"},"transform":[{"filter":"datum.s=='a'"}],"mark":{"type":"line","stroke":"#b8b8b8","strokeWidth":1,"clip":true},"encoding":{"x":{"field":"i","type":"quantitative","scale":{"domain":[-0.37,250.56],"nice":false,"zero":false},"axis":null},"y":{"field":"v","type":"quantitative","title":null,"scale":{"domain":[1187.9,1523.0],"nice":false,"zero":false},"axis":{"orient":"right","values":[1190,1223,1256,1289,1323,1356,1389,1422,1456,1489,1522],"format":".2f","labelFlush":4}}}},
{"data":{"name":"levels"},"mark":{"type":"rule"},"encoding":{"y":{"field":"v","type":"quantitative","title":null,"scale":{"domain":[1187.9,1523.0],"nice":false,"zero":false},"axis":{"orient":"right","values":[1190,1223,1256,1289,1323,1356,1389,1422,1456,1489,1522],"format":".2f","labelFlush":4}},"color":{"condition":{"test":"datum.t=='s'","value":"#0000ff"},"value":"#c4c4c4"},"strokeWidth":{"condition":{"test":"datum.t=='s'","value":3},"value":1.5}}},
{"data":{"name":"bars"},"mark":{"type":"rule","stroke":"#55e655","strokeWidth":1,"clip":true},"encoding":{"x":{"field":"i","type":"quantitative","scale":{"domain":[-0.37,250.56],"nice":false,"zero":false},"axis":null},"y":{"field":"l","type":"quantitative","title":null,"scale":{"domain":[1187.9,1523.0],"nice":false,"zero":false},"axis":{"orient":"right","values":[1190,1223,1256,1289,1323,1356,1389,1422,1456,1489,1522],"format":".2f","labelFlush":4}},"y2":{"field":"h"}}},
{"data":{"name":"bars"},"mark":{"type":"bar","size":2,"clip":true},"encoding":{"x":{"field":"i","type":"quantitative","scale":{"domain":[-0.37,250.56],"nice":false,"zero":false},"axis":null},"y":{"field":"o","type":"quantitative","title":null,"scale":{"domain":[1187.9,1523.0],"nice":false,"zero":false},"axis":{"orient":"right","values":[1190,1223,1256,1289,1323,1356,1389,1422,1456,1489,1522],"format":".2f","labelFlush":4}},"y2":{"field":"c"},"color":{"condition":{"test":"datum.c>=datum.o","value":"#12b812"},"value":"#b0402a"}}},
{"data":{"name":"circles"},"mark":{"type":"point","shape":"circle","filled":false,"stroke":"#2298dc","strokeWidth":3,"size":430,"opacity":1,"clip":true},"encoding":{"x":{"field":"i","type":"quantitative","scale":{"domain":[-0.37,250.56],"nice":false,"zero":false},"axis":null},"y":{"field":"v","type":"quantitative","title":null,"scale":{"domain":[1187.9,1523.0],"nice":false,"zero":false},"axis":{"orient":"right","values":[1190,1223,1256,1289,1323,1356,1389,1422,1456,1489,1522],"format":".2f","labelFlush":4}}}},
{"data":{"name":"note"},"mark":{"type":"text","align":"left","baseline":"alphabetic","font":"Lato","fontWeight":"bold","fontSize":24,"lineHeight":31,"lineBreak":"\n","color":"#ee1c25"},"encoding":{"x":{"field":"i","type":"quantitative","scale":{"domain":[-0.37,250.56],"nice":false,"zero":false},"axis":null},"y":{"field":"v","type":"quantitative","title":null,"scale":{"domain":[1187.9,1523.0],"nice":false,"zero":false},"axis":{"orient":"right","values":[1190,1223,1256,1289,1323,1356,1389,1422,1456,1489,1522],"format":".2f","labelFlush":4}},"text":{"field":"t"}}},
{"data":{"name":"levels"},"mark":{"type":"bar","orient":"horizontal","size":9,"clip":false},"encoding":{"x":{"datum":251.2,"type":"quantitative","scale":{"domain":[-0.37,250.56],"nice":false,"zero":false},"axis":null},"x2":{"datum":262.0},"y":{"field":"v","type":"quantitative","title":null,"scale":{"domain":[1187.9,1523.0],"nice":false,"zero":false},"axis":{"orient":"right","values":[1190,1223,1256,1289,1323,1356,1389,1422,1456,1489,1522],"format":".2f","labelFlush":4}},"color":{"condition":{"test":"datum.t=='s'","value":"#0000ff"},"value":"#000000"}}},
{"data":{"name":"levels"},"mark":{"type":"text","align":"left","baseline":"middle","font":"Liberation Sans","fontSize":8,"color":"#ffffff","clip":false},"encoding":{"x":{"datum":252.3,"type":"quantitative","scale":{"domain":[-0.37,250.56],"nice":false,"zero":false},"axis":null},"y":{"field":"v","type":"quantitative","title":null,"scale":{"domain":[1187.9,1523.0],"nice":false,"zero":false},"axis":{"orient":"right","values":[1190,1223,1256,1289,1323,1356,1389,1422,1456,1489,1522],"format":".2f","labelFlush":4}},"text":{"field":"v","type":"quantitative","format":".2f"}}}
]},
{"width":811,"height":88,
"layer":[
{"data":{"name":"months"},"mark":{"type":"rule","stroke":"#000","strokeDash":[2,2],"strokeWidth":1,"opacity":0.8},"encoding":{"x":{"field":"i","type":"quantitative","scale":{"domain":[-0.37,250.56],"nice":false,"zero":false},"axis":null}}},
{"data":{"name":"bars"},"mark":{"type":"bar","size":1,"color":"#5fd65f"},"encoding":{"x":{"field":"i","type":"quantitative","scale":{"domain":[-0.37,250.56],"nice":false,"zero":false},"axis":null},"y":{"field":"m","type":"quantitative","title":null,"scale":{"domain":[-9.358,32.203],"nice":false,"zero":false},"axis":{"orient":"right","values":[-9.358,0,32.203],"labelExpr":"datum.value==0?'0.00':(datum.value<0?'-9.358':'32.203')","labelFlush":true}},"y2":{"datum":0}}},
{"data":{"name":"sig"},"mark":{"type":"line","stroke":"#ff2a2a","strokeWidth":1.2},"encoding":{"x":{"field":"i","type":"quantitative","scale":{"domain":[-0.37,250.56],"nice":false,"zero":false},"axis":null},"y":{"field":"v","type":"quantitative","title":null,"scale":{"domain":[-9.358,32.203],"nice":false,"zero":false},"axis":{"orient":"right","values":[-9.358,0,32.203],"labelExpr":"datum.value==0?'0.00':(datum.value<0?'-9.358':'32.203')","labelFlush":true}}}},
{"data":{"values":[{"t":"MACD(12,26,9) -3.484 2.441"}]},"mark":{"type":"text","align":"left","baseline":"top","font":"Liberation Sans","fontSize":7.6,"color":"#333","dx":4,"dy":3},"encoding":{"x":{"datum":-0.37,"type":"quantitative","scale":{"domain":[-0.37,250.56],"nice":false,"zero":false},"axis":null},"y":{"datum":32.203,"type":"quantitative","title":null,"scale":{"domain":[-9.358,32.203],"nice":false,"zero":false},"axis":{"orient":"right","values":[-9.358,0,32.203],"labelExpr":"datum.value==0?'0.00':(datum.value<0?'-9.358':'32.203')","labelFlush":true}},"text":{"field":"t"}}}
]},
{"width":811,"height":105,
"layer":[
{"data":{"name":"months"},"mark":{"type":"rule","stroke":"#000","strokeDash":[2,2],"strokeWidth":1,"opacity":0.8},"encoding":{"x":{"field":"i","type":"quantitative","scale":{"domain":[-0.37,250.56],"nice":false,"zero":false},"axis":null}}},
{"data":{"values":[{"v":80},{"v":20}]},"mark":{"type":"rule","stroke":"#bdbdbd","strokeDash":[3,3],"strokeWidth":1},"encoding":{"y":{"field":"v","type":"quantitative","title":null,"scale":{"domain":[0,100],"nice":false,"zero":false},"axis":{"orient":"right","values":[0,20,80,100],"labelFlush":true}}}},
{"data":{"name":"st"},"transform":[{"filter":"datum.s=='k'"}],"mark":{"type":"line","stroke":"#3fd83f","strokeWidth":1.1},"encoding":{"x":{"field":"i","type":"quantitative","scale":{"domain":[-0.37,250.56],"nice":false,"zero":false},"axis":null},"y":{"field":"v","type":"quantitative","title":null,"scale":{"domain":[0,100],"nice":false,"zero":false},"axis":{"orient":"right","values":[0,20,80,100],"labelFlush":true}}}},
{"data":{"name":"st"},"transform":[{"filter":"datum.s=='d'"}],"mark":{"type":"line","stroke":"#ff2626","strokeWidth":1.1},"encoding":{"x":{"field":"i","type":"quantitative","scale":{"domain":[-0.37,250.56],"nice":false,"zero":false},"axis":null},"y":{"field":"v","type":"quantitative","title":null,"scale":{"domain":[0,100],"nice":false,"zero":false},"axis":{"orient":"right","values":[0,20,80,100],"labelFlush":true}}}},
{"data":{"values":[{"t":"Stoch(8,3,3) 11.9292 23.6067"}]},"mark":{"type":"text","align":"left","baseline":"top","font":"Liberation Sans","fontSize":7.6,"color":"#333","dx":4,"dy":3},"encoding":{"x":{"datum":-0.37,"type":"quantitative","scale":{"domain":[-0.37,250.56],"nice":false,"zero":false},"axis":null},"y":{"datum":100,"type":"quantitative","title":null,"scale":{"domain":[0,100],"nice":false,"zero":false},"axis":{"orient":"right","values":[0,20,80,100],"labelFlush":true}},"text":{"field":"t"}}}
]},
{"width":811,"height":40,
"layer":[
{"data":{"name":"months"},"mark":{"type":"rule","stroke":"#000","strokeDash":[2,2],"strokeWidth":1,"opacity":0.8},"encoding":{"x":{"field":"i","type":"quantitative","scale":{"domain":[-0.37,250.56],"nice":false,"zero":false},"axis":null}}},
{"data":{"name":"rsi"},"mark":{"type":"line","stroke":"#3fd83f","strokeWidth":1.1,"clip":true},"encoding":{"x":{"field":"i","type":"quantitative","scale":{"domain":[-0.37,250.56],"nice":false,"zero":false},"axis":null},"y":{"field":"v","type":"quantitative","title":null,"scale":{"domain":[0,100],"nice":false,"zero":false},"axis":{"orient":"right","values":[0,30,70,100],"labelFlush":true}}}},
{"data":{"values":[{"t":"RSI(13) 36.3264"}]},"mark":{"type":"text","align":"left","baseline":"top","font":"Liberation Sans","fontSize":7.6,"color":"#333","dx":4,"dy":3},"encoding":{"x":{"datum":-0.37,"type":"quantitative","scale":{"domain":[-0.37,250.56],"nice":false,"zero":false},"axis":null},"y":{"datum":100,"type":"quantitative","title":null,"scale":{"domain":[0,100],"nice":false,"zero":false},"axis":{"orient":"right","values":[0,30,70,100],"labelFlush":true}},"text":{"field":"t"}}}
]}
]
}
